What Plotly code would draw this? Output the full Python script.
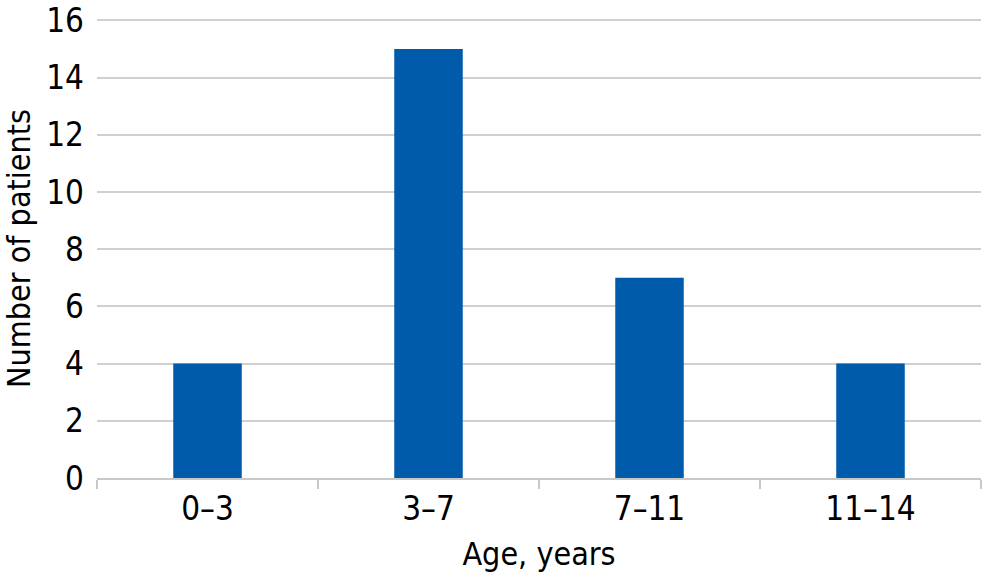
import plotly.graph_objects as go

categories = ["0–3", "3–7", "7–11", "11–14"]
patients = [4, 15, 7, 4]
y_ticks = [0, 2, 4, 6, 8, 10, 12, 14, 16]

FONT = "DejaVu Sans Condensed, Roboto, sans-serif"

fig = go.Figure(go.Bar(x=categories, y=patients, marker=dict(color="#005BAA", line=dict(width=0))))

fig.update_layout(
    width=982, height=584,
    margin=dict(l=97, r=1, t=19, b=106),
    plot_bgcolor="white", paper_bgcolor="white",
    bargap=0.69,
    font=dict(family=FONT, size=33, color="black"),
    showlegend=False,
)
fig.update_xaxes(
    automargin=False,
    tickson="boundaries", ticks="outside", ticklen=9, tickcolor="#c8c8c8", tickwidth=2,
    showline=True, linecolor="#c8c8c8", linewidth=2,
    title=dict(text="Age, years", standoff=16, font=dict(size=32)),
    tickfont=dict(size=33),
)
fig.update_yaxes(
    automargin=False, ticklabeloverflow="allow",
    range=[0, 16.05], tickvals=y_ticks, showgrid=True, gridcolor="#d0d0d0", gridwidth=2,
    zeroline=False, ticks="", ticklabelstandoff=12,
    title=dict(text="Number of patients", standoff=8, font=dict(size=32)),
    tickfont=dict(size=33),
)
fig.write_html(
    "out.html",
    config={"displayModeBar": False},
    post_script="document.body.style.margin='0';document.body.style.overflow='hidden';",
)
